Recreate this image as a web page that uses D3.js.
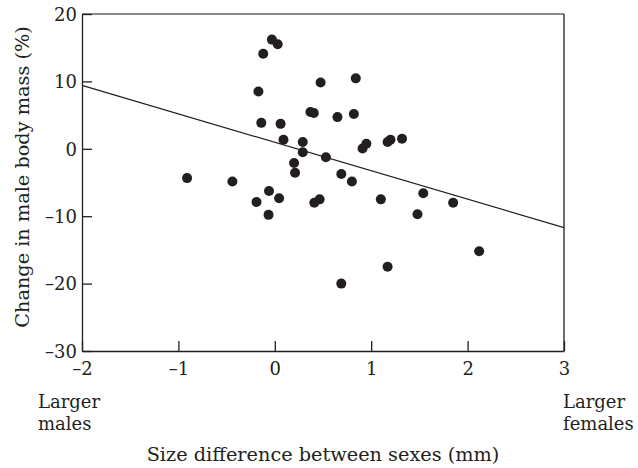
<!DOCTYPE html>
<html><head><meta charset="utf-8">
<script src="https://cdn.jsdelivr.net/npm/d3@7"></script>
<style>
html,body{margin:0;padding:0;background:#fff;}
svg text{font-family:"DejaVu Serif",serif;fill:#231f20;}
</style></head>
<body><svg id="c" width="638" height="468"></svg>
<script>
const sizeDiff = [-0.91,-0.44,-0.19,-0.065,-0.06,0.045,-0.17,-0.12,-0.03,0.03,-0.14,0.06,0.09,0.29,0.29,0.20,0.21,0.37,0.405,0.475,0.84,0.65,0.82,0.53,0.91,0.95,1.17,1.20,1.32,0.69,0.80,0.41,0.465,1.10,1.54,1.85,1.48,0.69,1.17,2.12];
const massChange = [-4.35,-4.85,-7.9,-9.8,-6.25,-7.35,8.5,14.1,16.2,15.5,3.85,3.7,1.35,1.0,-0.5,-2.1,-3.55,5.45,5.3,9.85,10.45,4.7,5.15,-1.25,0.05,0.75,1.0,1.35,1.5,-3.75,-4.85,-8.0,-7.5,-7.5,-6.6,-8.0,-9.7,-20.0,-17.5,-15.2];
const fitX = [-2, 3];
const fitY = [9.4, -11.7];
const xTicks = [-2,-1,0,1,2,3];
const yTicks = [-30,-20,-10,0,10,20];

const svg = d3.select("#c");
const L=82, R=564, T=14, B=351;
const x = d3.scaleLinear().domain([-2,3]).range([L,R]);
const y = d3.scaleLinear().domain([-30,20]).range([B,T]);
const ink = "#231f20";
const fs = 18;

// frame top & right
svg.append("line").attr("x1",L).attr("x2",R).attr("y1",T).attr("y2",T).attr("stroke","#666").attr("stroke-width",1.4);
svg.append("line").attr("x1",R).attr("x2",R).attr("y1",T).attr("y2",B).attr("stroke",ink).attr("stroke-width",1.3);

const fmt = d => d<0 ? "\u2013"+Math.abs(d) : String(d);

const xa = svg.append("g").attr("transform",`translate(0,${B})`)
  .call(d3.axisBottom(x).tickValues(xTicks).tickSizeInner(-10).tickSizeOuter(0).tickPadding(11).tickFormat(fmt));
const ya = svg.append("g").attr("transform",`translate(${L},0)`)
  .call(d3.axisLeft(y).tickValues(yTicks).tickSizeInner(-10).tickSizeOuter(0).tickPadding(5).tickFormat(fmt));
[xa,ya].forEach(a=>{
  a.select(".domain").attr("stroke",ink).attr("stroke-width",1.3);
  a.selectAll(".tick line").attr("stroke",ink).attr("stroke-width",1.3);
  a.selectAll(".tick text").attr("font-size",fs).attr("font-family","DejaVu Serif").attr("fill",ink);
});
ya.selectAll(".tick text").attr("dy","0.35em");

// fit line
svg.append("line").attr("x1",x(fitX[0])).attr("y1",y(fitY[0])).attr("x2",x(fitX[1])).attr("y2",y(fitY[1]))
  .attr("stroke",ink).attr("stroke-width",1.2);

// points
svg.append("g").selectAll("circle").data(sizeDiff.map((d,i)=>[d,massChange[i]])).join("circle")
  .attr("cx",d=>x(d[0])).attr("cy",d=>y(d[1])).attr("r",5).attr("fill",ink);

// annotations
const t1 = svg.append("text").attr("x",38).attr("y",408).attr("font-size",fs);
t1.append("tspan").attr("x",38).text("Larger");
t1.append("tspan").attr("x",38).attr("dy",21.5).text("males");
const t2 = svg.append("text").attr("x",563).attr("y",408).attr("font-size",fs);
t2.append("tspan").attr("x",563).text("Larger");
t2.append("tspan").attr("x",563).attr("dy",21.5).text("females");

svg.append("text").attr("x",(L+R)/2).attr("y",461).attr("text-anchor","middle").attr("font-size",19.3)
  .text("Size difference between sexes (mm)");
svg.append("text").attr("transform",`translate(29,177) rotate(-90)`).attr("text-anchor","middle").attr("font-size",19.3)
  .text("Change in male body mass (%)");
</script></body></html>
